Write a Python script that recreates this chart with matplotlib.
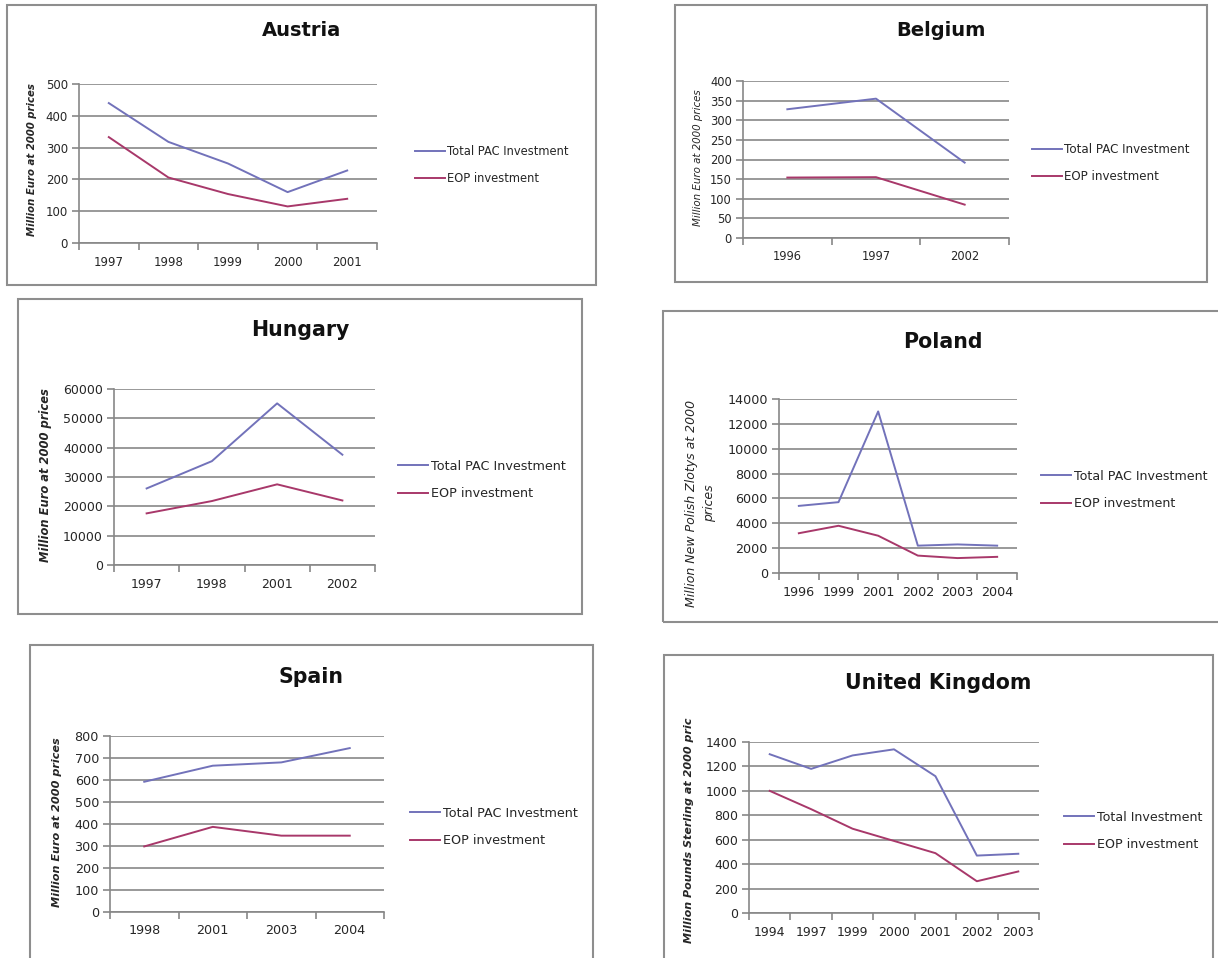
"""
Six small Excel-style line charts: total PAC investment vs EOP investment
per country, laid out as a page of separate boxed charts.
"""
import matplotlib
matplotlib.use("Agg")
import matplotlib.pyplot as plt
from matplotlib.patches import Rectangle

# ── data ────────────────────────────────────────────────────────────────────
austria_years = ["1997", "1998", "1999", "2000", "2001"]
austria_total = [440, 318, 250, 160, 228]
austria_eop = [333, 206, 154, 115, 139]

belgium_years = ["1996", "1997", "2002"]
belgium_total = [328, 355, 192]
belgium_eop = [154, 155, 85]

hungary_years = ["1997", "1998", "2001", "2002"]
hungary_total = [26100, 35400, 55100, 37600]
hungary_eop = [17600, 21800, 27500, 22000]

poland_years = ["1996", "1999", "2001", "2002", "2003", "2004"]
poland_total = [5400, 5700, 13000, 2200, 2300, 2200]
poland_eop = [3200, 3800, 3000, 1400, 1200, 1300]

spain_years = ["1998", "2001", "2003", "2004"]
spain_total = [592, 665, 680, 745]
spain_eop = [298, 387, 347, 347]

uk_years = ["1994", "1997", "1999", "2000", "2001", "2002", "2003"]
uk_total = [1300, 1180, 1290, 1340, 1120, 470, 485]
uk_eop = [1000, 850, 690, 590, 490, 260, 340]

PAC_LABELS = ["Total PAC Investment", "EOP investment"]
UK_LABELS = ["Total Investment", "EOP investment"]

W, H = 1218, 958
BLUE = "#7272BA"
RED = "#A8386A"
GRID = "#878787"
BORDER = "#8E8E8E"
TEXT = "#262626"

plt.rcParams["font.family"] = ["DejaVu Sans"]


def fx(x):
    return x / W


def fy(y):
    return 1 - y / H


def panel(fig, title, box, plot, title_y, legend_xy, ylab_xy, cats, total, eop,
          ymax, ystep, ylabel, labels, title_fs=14.8, tick_fs=9, leg_fs=9,
          ylab_fs=8, ylab_weight="bold", ylab_spacing=1.2):
    # chart-area border
    bx0, by0, bx1, by1 = box
    fig.add_artist(Rectangle((fx(bx0), fy(by1)), (bx1 - bx0) / W, (by1 - by0) / H,
                             transform=fig.transFigure, fill=False,
                             edgecolor=BORDER, lw=1.5, clip_on=False))

    # plot area
    x0, y0, x1, y1 = plot
    ax = fig.add_axes([fx(x0), fy(y1), (x1 - x0) / W, (y1 - y0) / H])
    n = len(cats)
    xs = list(range(n))
    l1, = ax.plot(xs, total, color=BLUE, lw=1.4)
    l2, = ax.plot(xs, eop, color=RED, lw=1.4)

    ax.set_xlim(-0.5, n - 0.5)
    ax.set_ylim(0, ymax)
    ax.set_yticks(list(range(0, ymax + 1, ystep)))
    ax.yaxis.grid(True, color=GRID, lw=1.2)
    ax.set_axisbelow(True)

    ax.set_xticks(xs)
    ax.set_xticklabels(cats)
    ax.set_xticks([i - 0.5 for i in range(n + 1)], minor=True)
    ax.tick_params(axis="x", which="major", length=0, pad=9,
                   labelsize=tick_fs, labelcolor=TEXT)
    ax.tick_params(axis="x", which="minor", length=5, width=1.2, color=GRID)
    ax.tick_params(axis="y", length=5, width=1.2, color=GRID, pad=3,
                   labelsize=tick_fs, labelcolor=TEXT)
    for side in ("top", "right"):
        ax.spines[side].set_visible(False)
    for side in ("left", "bottom"):
        ax.spines[side].set_color(GRID)
        ax.spines[side].set_linewidth(1.2)

    # title, axis label, legend
    fig.text(fx((bx0 + bx1) / 2), fy(title_y), title, ha="center", va="center",
             fontsize=title_fs, fontweight="bold", color="#111111")
    fig.text(fx(ylab_xy[0]), fy(ylab_xy[1]), ylabel, rotation=90,
             ha="center", va="center", multialignment="center",
             fontsize=ylab_fs, style="italic", fontweight=ylab_weight,
             color=TEXT, linespacing=ylab_spacing)

    lx, ly = legend_xy
    fpx = leg_fs * 100 / 72
    ax.legend([l1, l2], labels, loc="center left",
              bbox_to_anchor=(fx(lx), fy(ly)), bbox_transform=fig.transFigure,
              frameon=False, fontsize=leg_fs, handlelength=30 / fpx,
              handletextpad=0.2, labelspacing=1.15, borderpad=0,
              borderaxespad=0, labelcolor=TEXT)
    return ax


def main():
    fig = plt.figure(figsize=(W / 100, H / 100), dpi=100)

    panel(fig, "Austria", (7, 5, 596, 285), (79, 84, 377, 243), 31,
          (415, 165), (32, 160), austria_years, austria_total, austria_eop,
          500, 100, "Million Euro at 2000 prices", PAC_LABELS,
          title_fs=14, tick_fs=8.5, leg_fs=8.3, ylab_fs=7.3)

    panel(fig, "Belgium", (675, 5, 1207, 282), (743, 81, 1009, 238), 31,
          (1032, 163), (698, 158), belgium_years, belgium_total, belgium_eop,
          400, 50, "Million Euro at 2000 prices", PAC_LABELS,
          title_fs=14, tick_fs=8.3, leg_fs=8.6, ylab_fs=7.4, ylab_weight="normal")

    panel(fig, "Hungary", (18, 299, 582, 614), (114, 389, 375, 565), 330,
          (398, 480), (45, 475), hungary_years, hungary_total, hungary_eop,
          60000, 10000, "Million Euro at 2000 prices", PAC_LABELS,
          tick_fs=9, leg_fs=9.2, ylab_fs=8.3)

    panel(fig, "Poland", (663, 311, 1222, 622), (779, 399, 1017, 573), 342,
          (1041, 490), (701, 503), poland_years, poland_total, poland_eop,
          14000, 2000, "Million New Polish Zlotys at 2000\nprices", PAC_LABELS,
          tick_fs=9.2, leg_fs=9.1, ylab_fs=9, ylab_weight="normal",
          ylab_spacing=1.5)

    panel(fig, "Spain", (30, 645, 593, 975), (110, 736, 384, 912), 677,
          (410, 827), (57, 822), spain_years, spain_total, spain_eop,
          800, 100, "Million Euro at 2000 prices", PAC_LABELS,
          tick_fs=9.2, leg_fs=9.2, ylab_fs=8.1)

    panel(fig, "United Kingdom", (664, 655, 1213, 975), (749, 742, 1039, 913), 683,
          (1064, 831), (689, 830), uk_years, uk_total, uk_eop,
          1400, 200, "Million Pounds Sterling at 2000 pric", UK_LABELS,
          tick_fs=9, leg_fs=9.1, ylab_fs=8)

    fig.savefig("out.png", dpi=100)


if __name__ == "__main__":
    main()
